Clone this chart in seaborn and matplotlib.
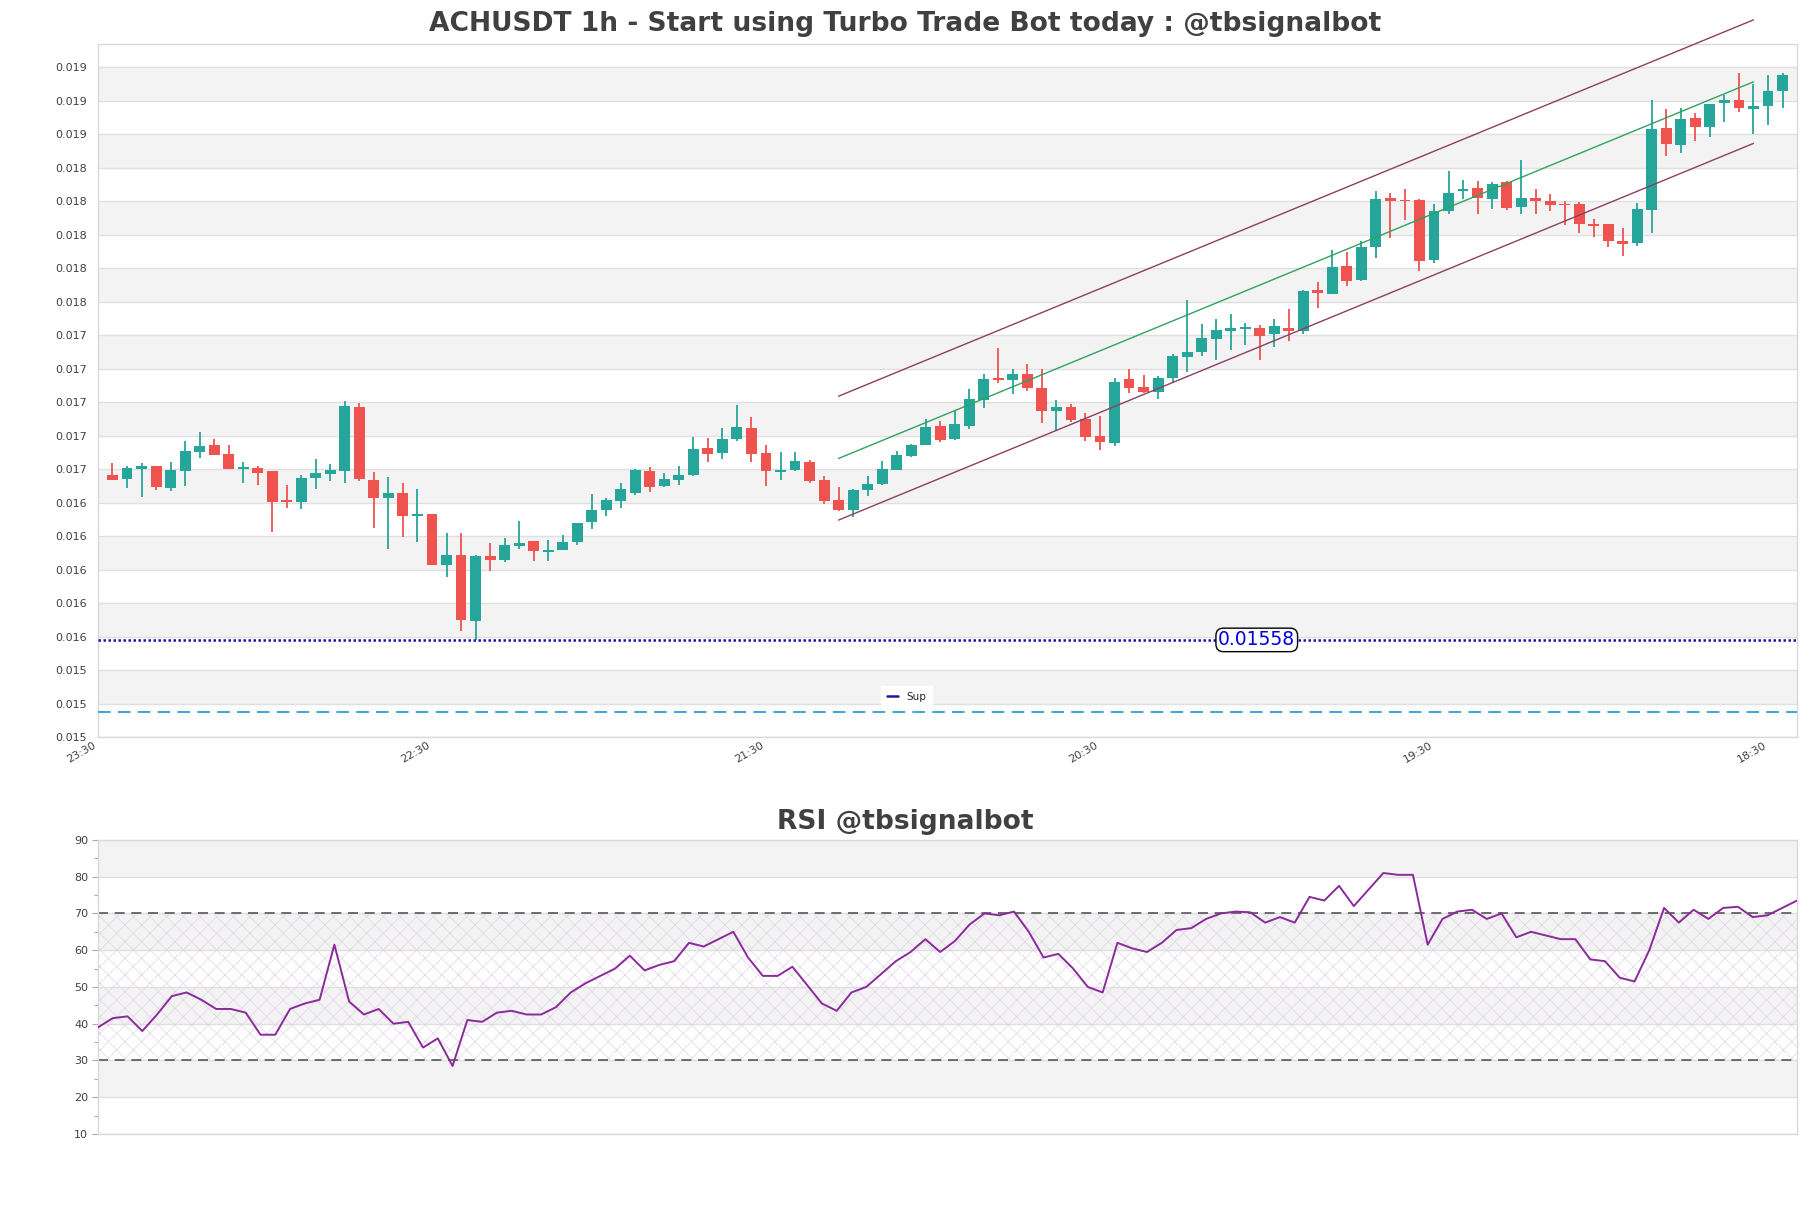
import numpy as np
import pandas as pd
import matplotlib
matplotlib.use("Agg")
import matplotlib.pyplot as plt
import seaborn as sns

# ---------------- data ----------------
opens = [0.016564, 0.016540, 0.016602, 0.016618, 0.016486, 0.016590, 0.016704, 0.016744, 0.016690, 0.016600,
         0.016606, 0.016590, 0.016416, 0.016404, 0.016546, 0.016572, 0.016590, 0.016972, 0.016534, 0.016428,
         0.016456, 0.016320, 0.016330, 0.016026, 0.016090, 0.015690, 0.016084, 0.016056, 0.016140, 0.016172,
         0.016104, 0.016120, 0.016164, 0.016284, 0.016356, 0.016410, 0.016458, 0.016588, 0.016500, 0.016536,
         0.016566, 0.016726, 0.016698, 0.016780, 0.016846, 0.016696, 0.016584, 0.016596, 0.016642, 0.016534,
         0.016414, 0.016356, 0.016476, 0.016514, 0.016594, 0.016678, 0.016746, 0.016856, 0.016780, 0.016860,
         0.017016, 0.017144, 0.017132, 0.017170, 0.017082, 0.016946, 0.016974, 0.016902, 0.016800, 0.016756,
         0.017136, 0.017088, 0.017060, 0.017144, 0.017268, 0.017298, 0.017376, 0.017426, 0.017438, 0.017442,
         0.017408, 0.017446, 0.017426, 0.017670, 0.017648, 0.017814, 0.017732, 0.017930, 0.018222, 0.018206,
         0.018210, 0.017852, 0.018140, 0.018260, 0.018282, 0.018216, 0.018318, 0.018164, 0.018222, 0.018204,
         0.018186, 0.018184, 0.018064, 0.018064, 0.017962, 0.017952, 0.018150, 0.018640, 0.018534, 0.018700,
         0.018642, 0.018786, 0.018808, 0.018752, 0.018768, 0.018858]
highs = [0.016636, 0.016620, 0.016636, 0.016618, 0.016642, 0.016768, 0.016822, 0.016780, 0.016744, 0.016642,
         0.016620, 0.016590, 0.016504, 0.016568, 0.016660, 0.016630, 0.017007, 0.016993, 0.016582, 0.016552,
         0.016516, 0.016480, 0.016334, 0.016216, 0.016216, 0.016086, 0.016160, 0.016186, 0.016288, 0.016172,
         0.016174, 0.016204, 0.016276, 0.016450, 0.016430, 0.016520, 0.016600, 0.016610, 0.016576, 0.016618,
         0.016792, 0.016786, 0.016846, 0.016984, 0.016912, 0.016744, 0.016702, 0.016702, 0.016656, 0.016558,
         0.016492, 0.016484, 0.016560, 0.016648, 0.016708, 0.016750, 0.016900, 0.016888, 0.016948, 0.017080,
         0.017170, 0.017322, 0.017196, 0.017230, 0.017196, 0.017016, 0.016992, 0.016936, 0.016916, 0.017142,
         0.017196, 0.017164, 0.017156, 0.017290, 0.017610, 0.017466, 0.017496, 0.017526, 0.017472, 0.017460,
         0.017496, 0.017554, 0.017670, 0.017716, 0.017910, 0.017898, 0.017964, 0.018260, 0.018252, 0.018276,
         0.018216, 0.018184, 0.018384, 0.018330, 0.018324, 0.018318, 0.018324, 0.018444, 0.018276, 0.018246,
         0.018204, 0.018198, 0.018094, 0.018064, 0.018038, 0.018188, 0.018804, 0.018754, 0.018758, 0.018730,
         0.018784, 0.018838, 0.018964, 0.018900, 0.018952, 0.018964]
lows = [0.016536, 0.016486, 0.016434, 0.016476, 0.016470, 0.016500, 0.016668, 0.016686, 0.016600, 0.016518,
        0.016506, 0.016224, 0.016368, 0.016362, 0.016480, 0.016530, 0.016518, 0.016530, 0.016246, 0.016122,
        0.016194, 0.016164, 0.016026, 0.015956, 0.015636, 0.015580, 0.015990, 0.016044, 0.016122, 0.016050,
        0.016050, 0.016116, 0.016146, 0.016242, 0.016320, 0.016366, 0.016446, 0.016464, 0.016494, 0.016506,
        0.016560, 0.016644, 0.016662, 0.016770, 0.016644, 0.016500, 0.016536, 0.016590, 0.016518, 0.016392,
        0.016350, 0.016314, 0.016440, 0.016504, 0.016594, 0.016672, 0.016746, 0.016764, 0.016774, 0.016842,
        0.016968, 0.017116, 0.017048, 0.017068, 0.016874, 0.016830, 0.016884, 0.016766, 0.016712, 0.016740,
        0.017054, 0.017054, 0.017018, 0.017116, 0.017180, 0.017276, 0.017252, 0.017312, 0.017342, 0.017252,
        0.017328, 0.017366, 0.017410, 0.017560, 0.017648, 0.017696, 0.017726, 0.017860, 0.017980, 0.018086,
        0.017786, 0.017830, 0.018122, 0.018212, 0.018122, 0.018152, 0.018146, 0.018122, 0.018122, 0.018140,
        0.018056, 0.018008, 0.017984, 0.017928, 0.017874, 0.017934, 0.018012, 0.018470, 0.018486, 0.018558,
        0.018584, 0.018672, 0.018732, 0.018600, 0.018654, 0.018758]
closes = [0.016536, 0.016606, 0.016618, 0.016492, 0.016594, 0.016708, 0.016738, 0.016686, 0.016600, 0.016612,
          0.016578, 0.016404, 0.016404, 0.016546, 0.016576, 0.016596, 0.016980, 0.016540, 0.016426, 0.016460,
          0.016320, 0.016330, 0.016026, 0.016090, 0.015696, 0.016080, 0.016056, 0.016144, 0.016160, 0.016110,
          0.016120, 0.016166, 0.016276, 0.016354, 0.016414, 0.016480, 0.016594, 0.016492, 0.016540, 0.016564,
          0.016720, 0.016692, 0.016780, 0.016852, 0.016692, 0.016590, 0.016594, 0.016648, 0.016530, 0.016410,
          0.016356, 0.016478, 0.016512, 0.016600, 0.016684, 0.016744, 0.016852, 0.016774, 0.016870, 0.017020,
          0.017140, 0.017134, 0.017170, 0.017084, 0.016946, 0.016974, 0.016892, 0.016790, 0.016760, 0.017122,
          0.017084, 0.017060, 0.017142, 0.017274, 0.017298, 0.017382, 0.017432, 0.017446, 0.017450, 0.017396,
          0.017454, 0.017426, 0.017666, 0.017654, 0.017808, 0.017726, 0.017928, 0.018216, 0.018202, 0.018200,
          0.017846, 0.018140, 0.018252, 0.018276, 0.018222, 0.018306, 0.018162, 0.018222, 0.018200, 0.018176,
          0.018176, 0.018066, 0.018054, 0.017964, 0.017948, 0.018152, 0.018634, 0.018540, 0.018694, 0.018642,
          0.018784, 0.018808, 0.018756, 0.018770, 0.018862, 0.018952]

rsi = [39.0, 41.5, 42.0, 38.0, 42.5, 47.5, 48.5, 46.5, 44.0, 44.0,
       43.0, 37.0, 37.0, 44.0, 45.5, 46.5, 61.5, 46.0, 42.5, 44.0,
       40.0, 40.5, 33.5, 36.0, 28.5, 41.0, 40.5, 43.0, 43.5, 42.5,
       42.5, 44.5, 48.5, 51.0, 53.0, 55.0, 58.5, 54.5, 56.0, 57.0,
       62.0, 61.0, 63.0, 65.0, 58.0, 53.0, 53.0, 55.5, 50.5, 45.5,
       43.5, 48.5, 50.0, 53.5, 57.0, 59.5, 63.0, 59.5, 62.5, 67.0,
       70.0, 69.5, 70.5, 65.0, 58.0, 59.0, 55.0, 50.0, 48.5, 62.0,
       60.5, 59.5, 62.0, 65.5, 66.0, 68.5, 70.0, 70.5, 70.3, 67.5,
       69.0, 67.5, 74.5, 73.5, 77.5, 72.0, 76.5, 81.0, 80.5, 80.5,
       61.5, 68.5, 70.5, 71.0, 68.5, 70.0, 63.5, 65.0, 64.0, 63.0,
       63.0, 57.5, 57.0, 52.5, 51.5, 60.0, 71.5, 67.5, 71.0, 68.5,
       71.5, 71.8, 69.0, 69.5, 71.5, 73.5]

# channel (start index, end index) and prices
chan_x = [50, 113]
chan_upper = [0.017036, 0.019284]
chan_mid = [0.016664, 0.018914]
chan_lower = [0.016296, 0.018546]

support = 0.01558
lower_level = 0.015147

x_tick_pos = [-1, 22, 45, 68, 91, 114]
x_tick_labels = ["23:30", "22:30", "21:30", "20:30", "19:30", "18:30"]
y_ticks = [round(0.0150 + 0.0002 * i, 4) for i in range(21)]
rsi_ticks = [10, 20, 30, 40, 50, 60, 70, 80, 90]

title_main = "ACHUSDT 1h - Start using Turbo Trade Bot today : @tbsignalbot"
title_rsi = "RSI @tbsignalbot"

# ---------------- style ----------------
sns.set_theme(style="white")
plt.rcParams["font.family"] = ["DejaVu Sans"]
plt.rcParams["hatch.linewidth"] = 0.5

GREEN = "#26a69a"
RED = "#ef5350"
SPINE = "#d9d9d9"
BAND = "#f3f3f3"
TXT = "#404040"

df = pd.DataFrame({"open": opens, "high": highs, "low": lows, "close": closes})
df["idx"] = np.arange(len(df))
df["up"] = df["close"] >= df["open"]
df["color"] = np.where(df["up"], GREEN, RED)
df["body_lo"] = df[["open", "close"]].min(axis=1)
df["body_h"] = (df["close"] - df["open"]).abs().clip(lower=0.000007)

fig = plt.figure(figsize=(18.11, 12.08), dpi=100)
AX_L, AX_W = 0.0541, 0.9382
ax = fig.add_axes([AX_L, 0.3899, AX_W, 0.5737])
ax2 = fig.add_axes([AX_L, 0.0613, AX_W, 0.2434])
title_x = (0.5 - AX_L) / AX_W

# ---- main chart ----
ylo, yhi = 0.0150, 0.01914
ax.set_ylim(ylo, yhi)
ax.set_xlim(-1, len(df))
for i in range(len(y_ticks) - 1):
    if i % 2 == 1:
        ax.axhspan(y_ticks[i], y_ticks[i + 1], color=BAND, zorder=0, lw=0)
for t in y_ticks:
    ax.axhline(t, color="#e0e0e0", lw=1.0, zorder=0.5)

ax.vlines(df["idx"], df["low"], df["high"], colors=df["color"], lw=1.3, zorder=2)
ax.bar(df["idx"], df["body_h"], bottom=df["body_lo"], width=0.75,
       color=df["color"], edgecolor=df["color"], lw=0, zorder=3)

ax.plot(chan_x, chan_upper, color="#8b3f63", lw=1.0, zorder=4, clip_on=False)
ax.plot(chan_x, chan_lower, color="#8b3f63", lw=1.0, zorder=4, clip_on=False)
ax.plot(chan_x, chan_mid, color="#2ea35e", lw=1.0, zorder=4, clip_on=False)

ax.axhline(support, color="#1414b8", lw=1.8, ls=(0, (1, 1)), zorder=4, label="Sup")
ax.axhline(lower_level, color="#2d9fd9", lw=1.3, ls=(0, (7, 4)), zorder=4)
ax.text(0.682, support, f"{support:.5f}", transform=ax.get_yaxis_transform(),
        color="#0000dd", fontsize=13.5, ha="center", va="center", zorder=6,
        bbox=dict(boxstyle="round,pad=0.12,rounding_size=0.4", fc="white", ec="black", lw=1))

leg = ax.legend(loc="center", bbox_to_anchor=(0.476, 0.058), fontsize=7.5, frameon=True,
                handlelength=1.0, borderpad=0.6, fancybox=False)
leg.get_frame().set_edgecolor("white")
leg.get_frame().set_facecolor("white")
leg.get_frame().set_alpha(1)
leg.get_lines()[0].set_linestyle("-")
leg.get_lines()[0].set_color("#1a1aa0")

ax.set_yticks(y_ticks)
ax.set_yticklabels([f"{t:.3f}" for t in y_ticks])
ax.set_xticks(x_tick_pos)
ax.set_xticklabels(x_tick_labels, rotation=30, ha="right")
ax.tick_params(axis="y", labelsize=8, colors=TXT, length=0, pad=8)
ax.tick_params(axis="x", labelsize=8, colors=TXT, length=0, pad=2)
for s in ax.spines.values():
    s.set_color(SPINE)
    s.set_linewidth(1.0)
ax.set_title(title_main, fontsize=19.1, fontweight="bold", color=TXT, pad=9, x=title_x)

# ---- RSI chart ----
n = len(rsi)
ax2.set_xlim(0, n - 1)
ax2.set_ylim(10, 90)
for lo in [20, 40, 60, 80]:
    ax2.axhspan(lo, lo + 10, color=BAND, zorder=0, lw=0)
for t in rsi_ticks:
    ax2.axhline(t, color="#e0e0e0", lw=1.0, zorder=0.5)
ax2.fill_between([0, n - 1], 30, 70, facecolor="none", edgecolor="#e0d4e6",
                 hatch="xx", lw=0, zorder=0.8)
ax2.axhline(70, color="#555555", lw=1.2, ls=(0, (6, 4)), zorder=2)
ax2.axhline(30, color="#555555", lw=1.2, ls=(0, (6, 4)), zorder=2)
rdf = pd.DataFrame({"x": np.arange(n), "rsi": rsi})
sns.lineplot(data=rdf, x="x", y="rsi", ax=ax2, color="#8b2a9b", lw=1.4, zorder=3)
ax2.set_xlabel("")
ax2.set_ylabel("")
ax2.set_xticks([])
ax2.set_yticks(rsi_ticks)
ax2.set_yticks([15, 25, 35, 45, 55, 65, 75, 85], minor=True)
ax2.tick_params(axis="y", which="major", labelsize=8, colors=TXT, length=4, width=0.8, left=True, pad=3)
ax2.tick_params(axis="y", which="minor", length=3, width=0.8, colors="#aaaaaa", left=True)
ax2.tick_params(axis="y", which="major", color="#aaaaaa")
for s in ax2.spines.values():
    s.set_color(SPINE)
    s.set_linewidth(1.0)
ax2.set_title(title_rsi, fontsize=19.1, fontweight="bold", color=TXT, pad=8, x=title_x)

fig.savefig("out.png", dpi=100)
